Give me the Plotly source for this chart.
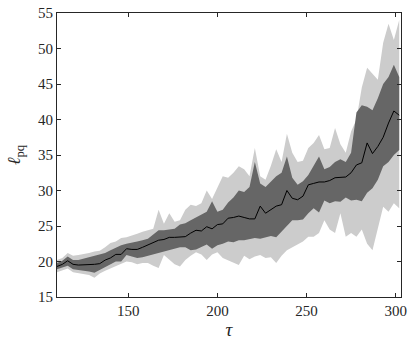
import plotly.graph_objects as go

tau = [110 + 3 * i for i in range(65)]

median = [19.3, 19.6, 20.1, 19.6, 19.5, 19.5, 19.5, 19.6, 19.7, 20.2,
          20.5, 21.0, 21.0, 21.8, 21.7, 21.7, 22.0, 22.3, 22.6, 23.0,
          23.1, 23.4, 23.4, 23.5, 23.5, 24.0, 24.4, 24.3, 24.9, 24.6,
          25.2, 25.3, 26.1, 26.2, 26.4, 26.2, 26.0, 26.0, 27.8, 26.8,
          27.3, 27.8, 28.0, 30.0, 28.9, 28.7, 29.2, 30.8, 31.0, 31.2,
          31.2, 31.4, 31.8, 31.9, 31.9, 32.5, 33.6, 33.9, 36.7, 35.2,
          36.2, 37.5, 39.5, 41.2, 40.6]

inner_hi = [19.8, 20.1, 20.7, 20.2, 20.2, 20.4, 20.5, 20.7, 20.9, 21.2,
            21.6, 22.0, 22.3, 22.5, 22.6, 22.8, 23.0, 23.2, 23.8, 24.4,
            24.4, 24.5, 24.6, 25.2, 25.4, 25.8, 26.2, 26.5, 27.0, 28.5,
            27.0, 27.3, 28.3, 29.0, 30.0, 29.8, 30.5, 34.0, 31.0, 30.5,
            31.3, 32.0, 32.5, 34.8, 31.8, 30.8, 31.3, 32.2, 33.5, 34.8,
            33.0, 33.3, 34.0, 34.4, 34.0, 35.3, 41.0, 42.0, 41.8, 41.3,
            43.0, 45.0, 46.0, 47.7, 46.0]

inner_lo = [18.9, 19.1, 19.4, 18.9, 18.8, 18.8, 18.6, 18.4, 18.8, 19.3,
            19.6, 20.0, 20.0, 20.9, 20.7, 20.5, 20.6, 20.8, 21.0, 21.2,
            21.4, 21.6, 21.8, 22.0, 22.0, 21.6, 21.7, 22.0, 22.4, 21.8,
            22.3, 22.5, 22.8, 22.7, 23.0, 23.0, 23.2, 23.3, 23.2, 23.4,
            23.6, 23.4, 24.2, 25.0, 25.8, 25.8, 25.9, 26.8, 27.5, 26.9,
            28.6, 28.2, 28.5, 28.4, 29.0, 28.6, 28.7, 28.5, 29.7, 30.3,
            31.5, 33.4, 34.0, 35.0, 35.7]

outer_hi = [20.2, 20.5, 21.2, 20.8, 20.9, 21.0, 21.2, 21.4, 21.5, 22.0,
            22.6, 22.8, 23.3, 23.4, 23.6, 23.9, 24.2, 24.4, 24.6, 27.3,
            25.3, 26.8, 25.6, 25.8, 27.3, 28.0, 27.8, 28.2, 30.0, 28.8,
            30.5, 32.0, 31.8, 32.5, 33.4, 33.0, 32.0, 36.0, 32.0, 31.5,
            33.5, 35.8, 34.0, 38.0, 35.3, 34.0, 34.2, 36.0, 36.7, 37.8,
            35.8, 36.0, 38.8, 36.5, 35.3, 38.3, 40.0, 44.5, 47.3, 46.5,
            45.6, 50.8, 53.5, 51.2, 54.0]

outer_lo = [18.5, 18.8, 19.0, 18.5, 18.4, 18.3, 18.1, 17.7, 18.3, 18.7,
            19.0, 19.4, 19.6, 20.0, 19.9, 19.6, 19.8, 19.8, 19.4, 19.1,
            20.9, 20.3, 19.6, 19.3, 20.2, 20.8, 21.3, 21.0, 20.2, 21.0,
            21.3, 20.5, 20.2, 19.8, 19.5, 20.8, 20.3, 20.7, 20.9, 20.5,
            20.6, 19.8, 20.8, 21.6, 22.0, 22.5, 22.8, 23.5, 23.5, 24.0,
            25.8, 24.5, 24.0, 26.8, 23.5, 24.0, 23.5, 24.5, 22.5, 21.6,
            24.8, 27.7, 27.0, 28.2, 27.5]

x_ticks = [150, 200, 250, 300]
y_ticks = [15, 20, 25, 30, 35, 40, 45, 50, 55]

LIGHT = "#cccccc"
DARK = "#666666"
SERIF = "Liberation Serif, Times New Roman, serif"

fig = go.Figure()
fig.add_trace(go.Scatter(x=tau, y=outer_hi, mode="lines", line=dict(width=0),
                         showlegend=False, hoverinfo="skip"))
fig.add_trace(go.Scatter(x=tau, y=outer_lo, mode="lines", line=dict(width=0),
                         fill="tonexty", fillcolor=LIGHT, showlegend=False, hoverinfo="skip"))
fig.add_trace(go.Scatter(x=tau, y=inner_hi, mode="lines", line=dict(width=0),
                         showlegend=False, hoverinfo="skip"))
fig.add_trace(go.Scatter(x=tau, y=inner_lo, mode="lines", line=dict(width=0),
                         fill="tonexty", fillcolor=DARK, showlegend=False, hoverinfo="skip"))
fig.add_trace(go.Scatter(x=tau, y=median, mode="lines", line=dict(color="black", width=1),
                         showlegend=False))

axis_common = dict(
    showgrid=False, zeroline=False, showline=True, linecolor="#262626", linewidth=1,
    mirror="ticks", ticks="inside", ticklen=4, tickcolor="#262626", automargin=False,
    tickfont=dict(family=SERIF, size=15, color="#262626"),
)

fig.update_layout(
    width=413, height=344,
    margin=dict(l=57, r=12, t=13, b=47),
    paper_bgcolor="white", plot_bgcolor="white",
    font=dict(family=SERIF, color="#262626"),
    xaxis=dict(range=[110, 303], tickvals=x_ticks,
               title=dict(text="<i>τ</i>", font=dict(family=SERIF, size=19), standoff=4),
               **axis_common),
    yaxis=dict(range=[15, 55], tickvals=y_ticks,
               title=dict(text="<i>ℓ</i><sub>pq</sub>", font=dict(family=SERIF, size=18), standoff=12),
               **axis_common),
)

fig.write_html(
    "out.html",
    config={"displayModeBar": False},
    post_script="document.body.style.margin='0';document.body.style.overflow='hidden';",
)
